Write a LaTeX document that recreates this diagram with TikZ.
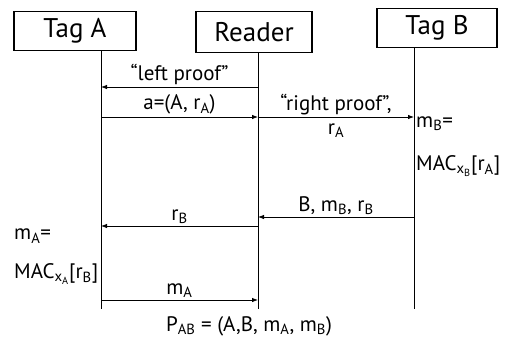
\documentclass[tikz,border=0pt]{standalone}
\usepackage{fontspec}
\setmainfont{PT Sans}
\usetikzlibrary{arrows.meta}

\begin{document}
\begin{tikzpicture}[x=1pt, y=-1pt,
    actor/.style={draw, line width=1.8pt, minimum height=39pt, inner sep=0pt, font=\fontsize{27}{31}\selectfont},
    life/.style={line width=0.8pt},
    msg/.style={-{Latex[length=6pt,width=4.5pt]}, line width=0.8pt},
    lbl/.style={font=\fontsize{21}{25}\selectfont, inner sep=2pt}
]
\useasboundingbox (0,0) rectangle (518,341);

% participants
\node[actor, minimum width=122pt] (tagA) at (75,31) {Tag A};
\node[actor, minimum width=116pt, minimum height=41pt] (reader) at (254,32) {Reader};
\node[actor, minimum width=120pt] (tagB) at (437,28) {Tag B};

% lifelines
\coordinate (aEnd) at (101,309);
\coordinate (rEnd) at (258,309);
\coordinate (bEnd) at (414,309);
\draw[life] (aEnd |- tagA.south) -- (aEnd);
\draw[life] (rEnd |- reader.south) -- (rEnd);
\draw[life] (bEnd |- tagB.south) -- (bEnd);

% messages
\draw[msg] (rEnd |- 0,87) -- (aEnd |- 0,87) node[lbl, midway, above] {“left proof”};
\draw[msg] (aEnd |- 0,117) -- (rEnd |- 0,117) node[lbl, midway, above] {a=(A, r\textsubscript{A})};
\draw[msg] (rEnd |- 0,117) -- (bEnd |- 0,117) node[lbl, midway, above] {“right proof”,}
    node[lbl, midway, below=4pt] {r\textsubscript{A}};
\draw[msg] (bEnd |- 0,217) -- (rEnd |- 0,217) node[lbl, midway, above] {B, m\textsubscript{B}, r\textsubscript{B}};
\draw[msg] (rEnd |- 0,226) -- (aEnd |- 0,226) node[lbl, midway, above] {r\textsubscript{B}};
\draw[msg] (aEnd |- 0,300) -- (rEnd |- 0,300) node[lbl, midway, above] {m\textsubscript{A}};

% computations
\node[lbl, anchor=west] (mB) at (414,124) {m\textsubscript{B}=};
\node[lbl, anchor=west] (macB) at (414,166) {MAC\textsubscript{x\textsubscript{B}}[r\textsubscript{A}]};
\node[lbl, anchor=west] (mA) at (12,236) {m\textsubscript{A}=};
\node[lbl, anchor=west] (macA) at (12,274) {MAC\textsubscript{x\textsubscript{A}}[r\textsubscript{B}]};
\node[lbl] (pAB) at (249,326) {P\textsubscript{AB} = (A,B, m\textsubscript{A}, m\textsubscript{B})};
\end{tikzpicture}
\end{document}
